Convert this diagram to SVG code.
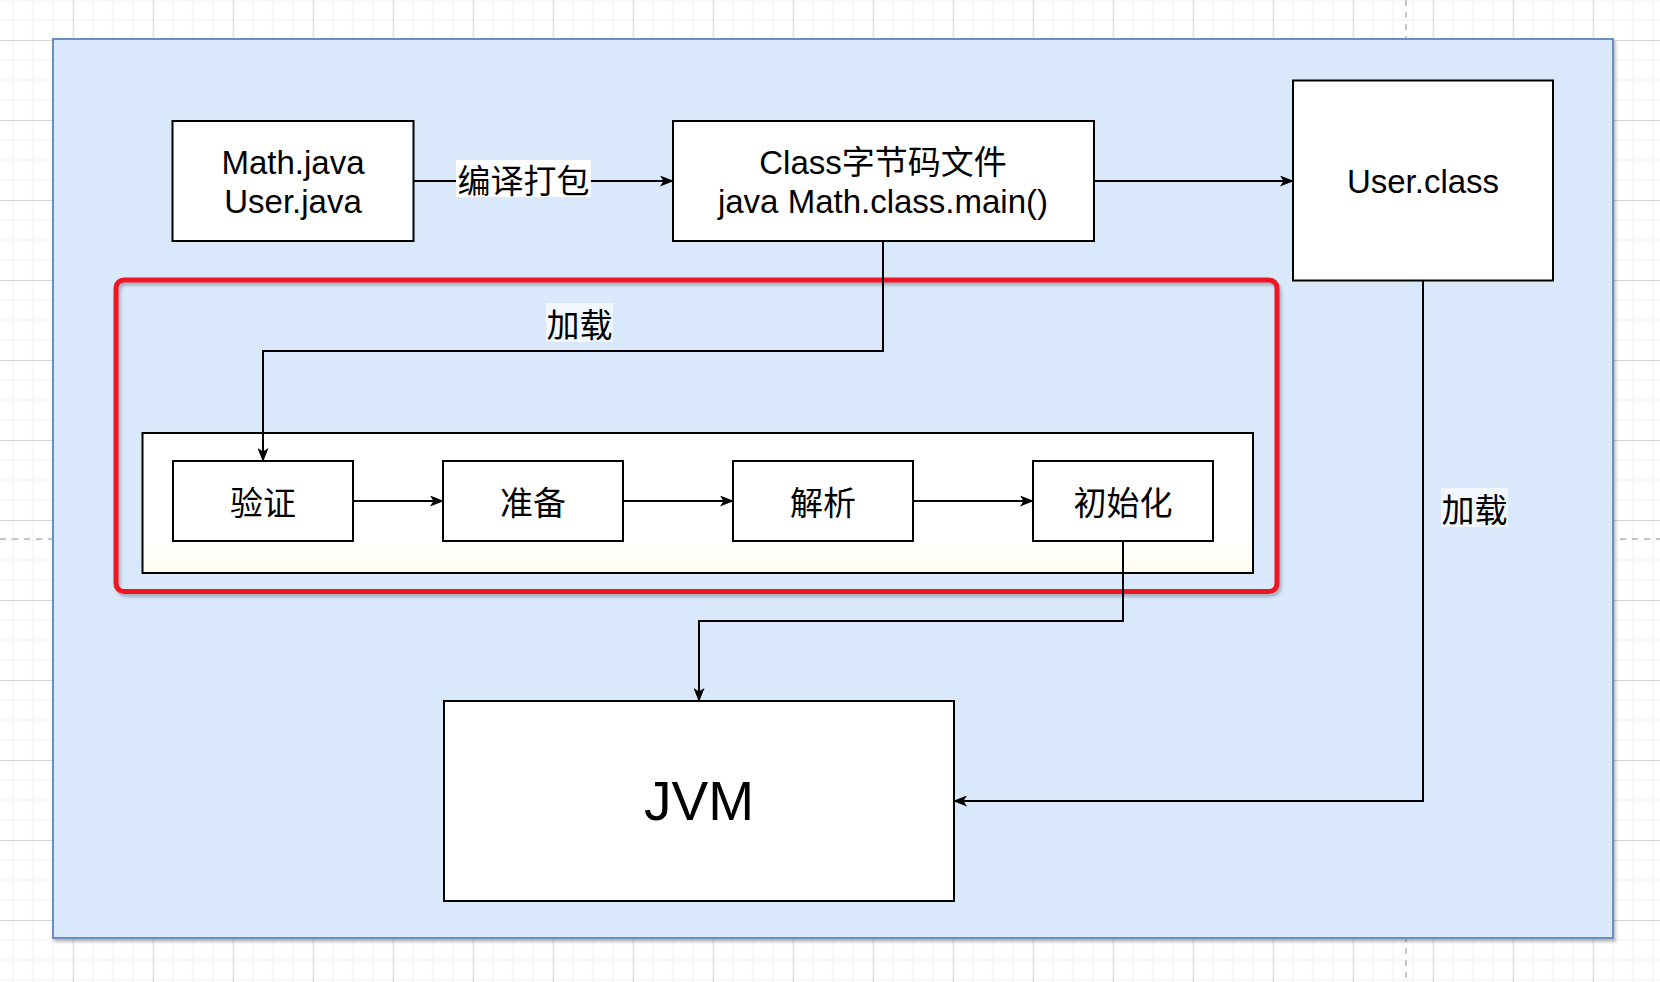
<svg xmlns="http://www.w3.org/2000/svg" width="1660" height="982" viewBox="0 0 1660 982">
  <defs>
    <pattern id="grid" x="72.7" y="40" width="80" height="80" patternUnits="userSpaceOnUse">
      <path d="M20 0V80M40 0V80M60 0V80M0 20H80M0 40H80M0 60H80" stroke="#efefef" stroke-width="1" fill="none"/>
      <path d="M0.5 0V80M0 0.5H80" stroke="#d6d6d6" stroke-width="1" fill="none"/>
    </pattern>
    <linearGradient id="innerFill" x1="0" y1="0" x2="0" y2="1">
      <stop offset="0" stop-color="#ffffff"/>
      <stop offset="0.75" stop-color="#ffffff"/>
      <stop offset="1" stop-color="#fffdf0"/>
    </linearGradient>
    <filter id="shadow" x="-5%" y="-5%" width="110%" height="115%">
      <feDropShadow dx="2" dy="3" stdDeviation="1.5" flood-color="#000" flood-opacity="0.25"/>
    </filter>
    <marker id="arrow" viewBox="0 0 14 11" refX="13" refY="5.5" markerWidth="14" markerHeight="11" markerUnits="userSpaceOnUse" orient="auto">
      <path d="M0,0 L14,5.5 L0,11 L3.5,5.5 Z" fill="#000"/>
    </marker>
    <style>
      .box { fill: #ffffff; stroke: #000000; stroke-width: 2; }
      .txt { font-family: "Liberation Sans", "Noto Sans CJK SC", sans-serif; font-size: 33px; fill: #000; text-anchor: middle; }
      .cjk { font-family: "Noto Sans CJK SC", "Liberation Sans", sans-serif; font-size: 33px; fill: #000; text-anchor: middle; dominant-baseline: central; }
      .conn { fill: none; stroke: #000; stroke-width: 2; }
      .arr { marker-end: url(#arrow); }
      .pagebreak { stroke: #b5b5b5; stroke-width: 1.5; stroke-dasharray: 6 6; fill: none; }
    </style>
  </defs>

  <!-- background grid -->
  <rect x="0" y="0" width="1660" height="982" fill="#ffffff"/>
  <rect x="0" y="0" width="1660" height="982" fill="url(#grid)"/>
  <path class="pagebreak" d="M1406 0V982M0 539H1660"/>

  <!-- container -->
  <g id="container">
    <rect x="53" y="39" width="1560" height="899" fill="#dae8fc" stroke="#6c8ebf" stroke-width="2" filter="url(#shadow)"/>
  </g>

  <!-- red loading group -->
  <g id="loading-group">
    <rect x="116" y="280" width="1161" height="311.5" rx="8" ry="8" fill="none" stroke="#ee1620" stroke-width="5" filter="url(#shadow)"/>
  </g>

  <g id="phase-container">
    <rect x="142.5" y="433" width="1110.5" height="140" fill="url(#innerFill)" stroke="#000" stroke-width="2"/>
  </g>

  <g id="node-source">
    <rect class="box" x="172.5" y="121" width="241" height="120"/>
    <text class="txt" x="293" y="174">Math.java</text>
    <text class="txt" x="293" y="213">User.java</text>
  </g>

  <g id="node-class">
    <rect class="box" x="673" y="121" width="421" height="120"/>
    <text class="txt" x="883" y="174">Class字节码文件</text>
    <text class="txt" x="883" y="213">java Math.class.main()</text>
  </g>

  <g id="node-userclass">
    <rect class="box" x="1293" y="80.5" width="260" height="200"/>
    <text class="txt" x="1423" y="193">User.class</text>
  </g>

  <g id="node-verify">
    <rect class="box" x="173" y="461" width="180" height="80"/>
    <text class="cjk" x="263" y="501">验证</text>
  </g>

  <g id="node-prepare">
    <rect class="box" x="443" y="461" width="180" height="80"/>
    <text class="cjk" x="533" y="501">准备</text>
  </g>

  <g id="node-resolve">
    <rect class="box" x="733" y="461" width="180" height="80"/>
    <text class="cjk" x="823" y="501">解析</text>
  </g>

  <g id="node-init">
    <rect class="box" x="1033" y="461" width="180" height="80"/>
    <text class="cjk" x="1123" y="501">初始化</text>
  </g>

  <g id="node-jvm">
    <rect class="box" x="444" y="701" width="510" height="200"/>
    <text class="txt" x="699" y="820" style="font-size:55px">JVM</text>
  </g>

  <g id="connectors">
    <path class="conn arr" d="M413.5 181H673"/>
    <path class="conn arr" d="M1094 181H1293"/>
    <path class="conn arr" d="M883 241V351H263V461"/>
    <path class="conn arr" d="M353 501H443"/>
    <path class="conn arr" d="M623 501H733"/>
    <path class="conn arr" d="M913 501H1033"/>
    <path class="conn arr" d="M1123 541V621H699V701"/>
    <path class="conn arr" d="M1423 280.5V801H954"/>

    <rect x="456" y="160" width="135" height="37" fill="#ffffff"/>
    <text class="cjk" x="523.5" y="178.5">编译打包</text>

    <rect x="546" y="303" width="67" height="39" fill="#f2f7fe"/>
    <text class="cjk" x="579.5" y="322.5">加载</text>

    <rect x="1441" y="488" width="67" height="39" fill="#f2f7fe"/>
    <text class="cjk" x="1474.5" y="507.5">加载</text>
  </g>
</svg>
